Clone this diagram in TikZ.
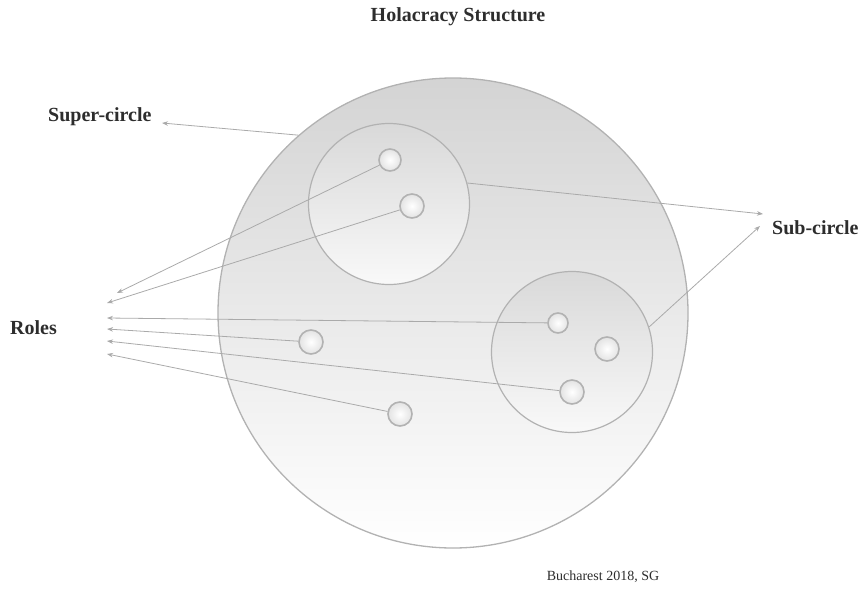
\documentclass[tikz,border=0pt]{standalone}
\usepackage{fontspec}
\setmainfont{Liberation Serif}
\usepackage{tikz}
\usetikzlibrary{arrows.meta,positioning,shadows}
\definecolor{inkgray}{RGB}{45,45,45}
\definecolor{rimgray}{RGB}{178,178,178}
\definecolor{linkgray}{RGB}{170,170,170}

\begin{document}
\begin{tikzpicture}[
  x=1pt, y=-1pt,
  bigcircle/.style={circle, inner sep=0pt, minimum size=470pt, draw=rimgray, line width=1.3pt, top color=gray!34, bottom color=white},
  subcircle/.style={circle, inner sep=0pt, minimum size=161pt, draw=rimgray, line width=1.2pt, top color=gray!30, bottom color=gray!5},
  role/.style={circle, inner sep=0pt, minimum size=#1, draw=rimgray, line width=1.6pt, inner color=white, outer color=gray!22},
  role/.default=24pt,
  lbl/.style={inner sep=0pt, text=inkgray, font=\fontsize{20}{24}\selectfont\bfseries},
  note/.style={inner sep=0pt, text=inkgray, font=\fontsize{14}{16}\selectfont},
  pointer/.style={-{Stealth[length=6pt,width=4.5pt]}, linkgray, line width=0.8pt},
]
  \useasboundingbox (0,0) rectangle (865,589);

  % Circles
  \node[bigcircle] (super) at (453,313) {};
  \node[subcircle] (subA) at (389,204) {};
  \node[subcircle] (subB) at (572,352) {};

  % Roles
  \node[role=22pt] (roleA1) at (390,160) {};
  \node[role] (roleA2) at (412,206) {};
  \node[role=20pt] (roleB1) at (558,323) {};
  \node[role] (roleB2) at (607,349) {};
  \node[role] (roleB3) at (572,392) {};
  \node[role] (roleC1) at (311,342) {};
  \node[role] (roleC2) at (400,414) {};

  % Labels
  \node[lbl] (title) at (458,17) {Holacracy Structure};
  \node[lbl, anchor=west] (superlbl) at (48,117) {Super-circle};
  \node[lbl, anchor=west] (sublbl) at (772,228) {Sub-circle};
  \node[lbl, anchor=west] (roleslbl) at (10,328) {Roles};
  \node[note] (place) at (603,577) {Bucharest 2018, SG};

  % Arrow tips
  \coordinate (supertip) at (162,123);
  \coordinate (subtipA) at (763,214);
  \coordinate (subtipB) at (760,226);
  \coordinate (roletip1) at (117,293);
  \coordinate (roletip2) at (107,303);
  \coordinate (roletip3) at (107,318);
  \coordinate (roletip4) at (107,329);
  \coordinate (roletip5) at (107,341);
  \coordinate (roletip6) at (107,354);

  % Links
  \draw[pointer] (super.131) -- (supertip);
  \draw[pointer] (subA.15) -- (subtipA);
  \draw[pointer] (subB.18) -- (subtipB);
  \draw[pointer] (roleA1) -- (roletip1);
  \draw[pointer] (roleA2) -- (roletip2);
  \draw[pointer] (roleB1) -- (roletip3);
  \draw[pointer] (roleC1) -- (roletip4);
  \draw[pointer] (roleB3) -- (roletip5);
  \draw[pointer] (roleC2) -- (roletip6);
\end{tikzpicture}
\end{document}
